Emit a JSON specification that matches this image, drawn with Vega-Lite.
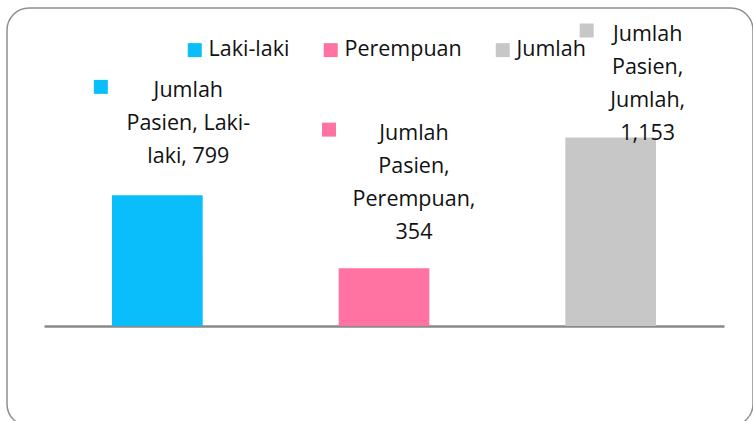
{
  "$schema": "https://vega.github.io/schema/vega-lite/v6.json",
  "width": 746,
  "height": 418,
  "autosize": {"type": "none"},
  "padding": {"left": 7, "top": 8, "right": 0, "bottom": 0},
  "background": "#ffffff",
  "config": {
    "view": {"stroke": "#8f8f8f", "strokeWidth": 1.5, "cornerRadius": 22},
    "font": "Open Sans"
  },
  "data": {
    "values": [
      {"kategori": "Laki-laki", "nilai": 799, "label": "Jumlah\nPasien, Laki-\nlaki, 799"},
      {"kategori": "Perempuan", "nilai": 354, "label": "Jumlah\nPasien,\nPerempuan,\n354"},
      {"kategori": "Jumlah", "nilai": 1153, "label": "Jumlah\nPasien,\nJumlah,\n1,153"}
    ]
  },
  "encoding": {
    "x": {
      "field": "kategori",
      "type": "nominal",
      "sort": ["Laki-laki", "Perempuan", "Jumlah"],
      "scale": {"range": [37, 717], "paddingInner": 0.6, "paddingOuter": 0.3},
      "axis": {
        "orient": "bottom",
        "offset": -100,
        "labels": false,
        "ticks": false,
        "title": null,
        "domainColor": "#8a8a8a",
        "domainWidth": 2.5
      }
    },
    "y": {
      "field": "nilai",
      "type": "quantitative",
      "scale": {"domain": [-611.6, 1945], "nice": false, "zero": false},
      "axis": null
    }
  },
  "layer": [
    {
      "mark": {"type": "bar"},
      "encoding": {
        "color": {
          "field": "kategori",
          "type": "nominal",
          "scale": {
            "domain": ["Laki-laki", "Perempuan", "Jumlah"],
            "range": ["#0ABDFB", "#FF73A2", "#C7C7C7"]
          },
          "legend": {
            "orient": "none",
            "direction": "horizontal",
            "legendX": 177,
            "legendY": 31,
            "title": null,
            "symbolType": "square",
            "symbolSize": 196,
            "symbolStrokeWidth": 0,
            "labelFont": "Open Sans",
            "labelFontSize": 21.5,
            "labelColor": "#111111",
            "labelOffset": 3,
            "columnPadding": 30
          }
        }
      }
    },
    {
      "transform": [{"filter": "datum.kategori === 'Laki-laki'"}],
      "mark": {"type": "text", "align": "center", "baseline": "middle", "lineBreak": "\n", "lineHeight": 33, "fontSize": 21.5, "color": "#111111", "dx": 31, "dy": -104},
      "encoding": {"text": {"field": "label"}}
    },
    {
      "transform": [{"filter": "datum.kategori === 'Perempuan'"}],
      "mark": {"type": "text", "align": "center", "baseline": "middle", "lineBreak": "\n", "lineHeight": 33, "fontSize": 21.5, "color": "#111111", "dx": 30, "dy": -134},
      "encoding": {"text": {"field": "label"}}
    },
    {
      "transform": [{"filter": "datum.kategori === 'Jumlah'"}],
      "mark": {"type": "text", "align": "center", "baseline": "middle", "lineBreak": "\n", "lineHeight": 33, "fontSize": 21.5, "color": "#111111", "dx": 37, "dy": -102},
      "encoding": {"text": {"field": "label"}}
    },
    {
      "transform": [{"filter": "datum.kategori === 'Laki-laki'"}],
      "mark": {"type": "point", "shape": "square", "filled": true, "size": 196, "opacity": 1, "color": "#0ABDFB", "xOffset": -56.5, "yOffset": -108.5},
      "encoding": {}
    },
    {
      "transform": [{"filter": "datum.kategori === 'Perempuan'"}],
      "mark": {"type": "point", "shape": "square", "filled": true, "size": 196, "opacity": 1, "color": "#FF73A2", "xOffset": -55, "yOffset": -138.5},
      "encoding": {}
    },
    {
      "transform": [{"filter": "datum.kategori === 'Jumlah'"}],
      "mark": {"type": "point", "shape": "square", "filled": true, "size": 196, "opacity": 1, "color": "#C7C7C7", "xOffset": -24, "yOffset": -107},
      "encoding": {}
    }
  ]
}
